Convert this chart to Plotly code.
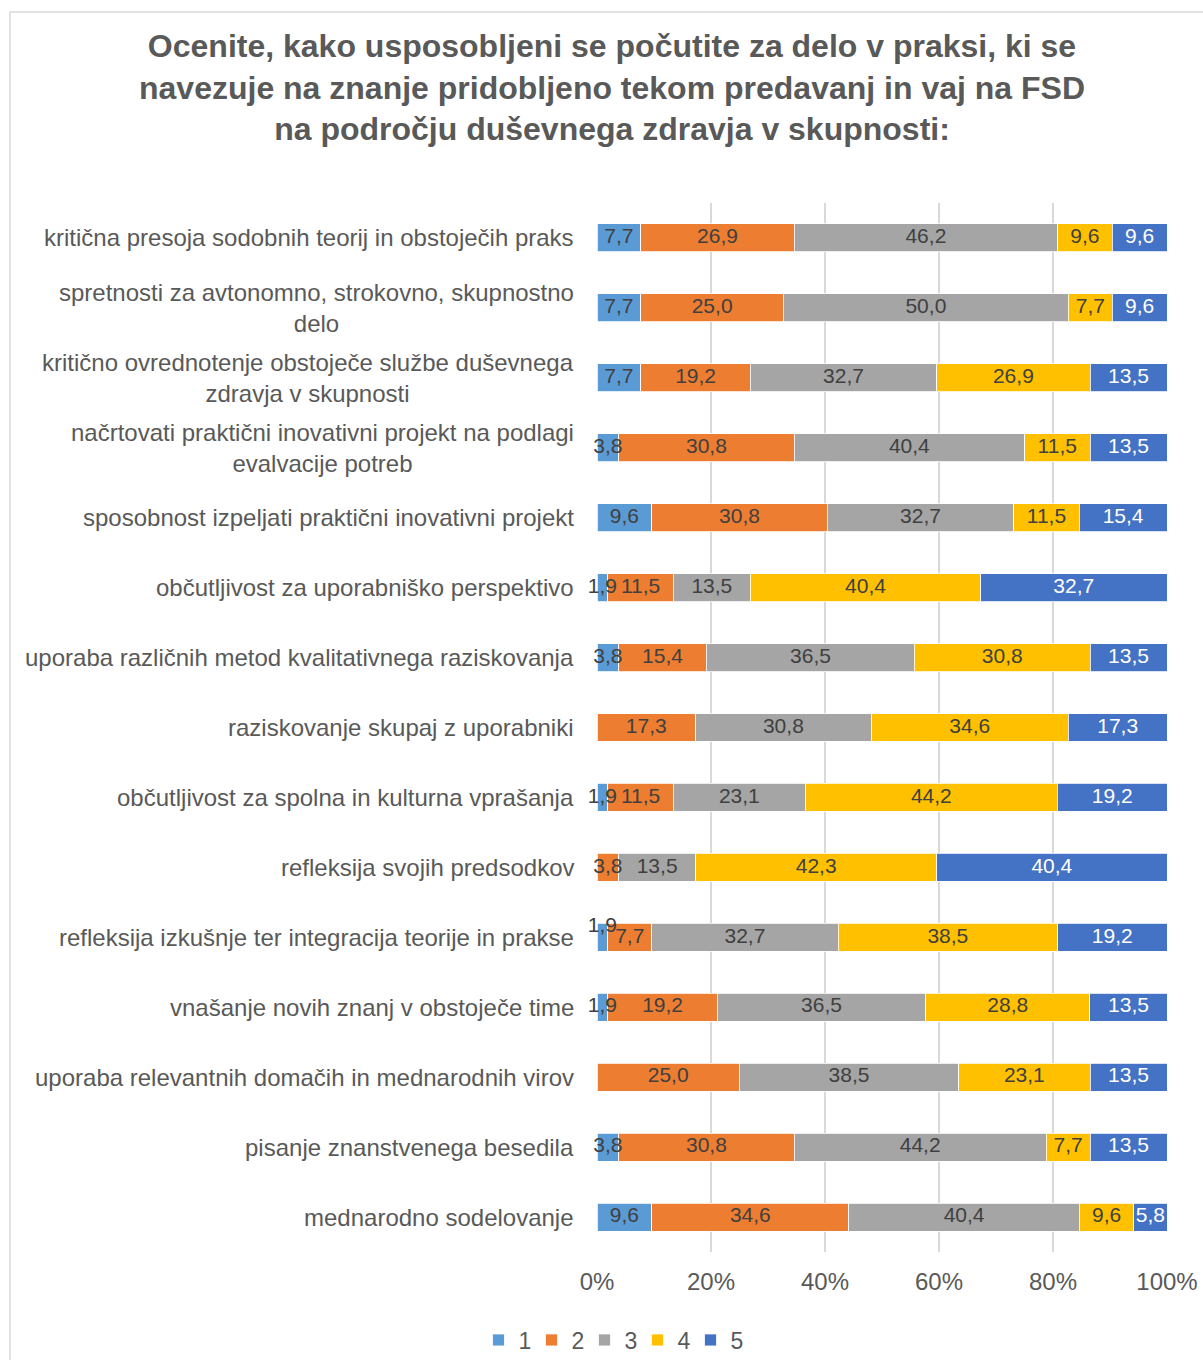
import plotly.graph_objects as go

# Survey items (top to bottom)
categories = [
    "kritična presoja sodobnih teorij in obstoječih praks",
    "spretnosti za avtonomno, strokovno, skupnostno<br>delo",
    "kritično ovrednotenje obstoječe službe duševnega<br>zdravja v skupnosti",
    "načrtovati praktični inovativni projekt na podlagi<br>evalvacije potreb",
    "sposobnost izpeljati praktični inovativni projekt",
    "občutljivost za uporabniško perspektivo",
    "uporaba različnih metod kvalitativnega raziskovanja",
    "raziskovanje skupaj z uporabniki",
    "občutljivost za spolna in kulturna vprašanja",
    "refleksija svojih predsodkov",
    "refleksija izkušnje ter integracija teorije in prakse",
    "vnašanje novih znanj v obstoječe time",
    "uporaba relevantnih domačih in mednarodnih virov",
    "pisanje znanstvenega besedila",
    "mednarodno sodelovanje",
]

# Share of answers (%) for each rating 1..5
rating_1 = [7.7, 7.7, 7.7, 3.8, 9.6, 1.9, 3.8, 0.0, 1.9, 0.0, 1.9, 1.9, 0.0, 3.8, 9.6]
rating_2 = [26.9, 25.0, 19.2, 30.8, 30.8, 11.5, 15.4, 17.3, 11.5, 3.8, 7.7, 19.2, 25.0, 30.8, 34.6]
rating_3 = [46.2, 50.0, 32.7, 40.4, 32.7, 13.5, 36.5, 30.8, 23.1, 13.5, 32.7, 36.5, 38.5, 44.2, 40.4]
rating_4 = [9.6, 7.7, 26.9, 11.5, 11.5, 40.4, 30.8, 34.6, 44.2, 42.3, 38.5, 28.8, 23.1, 7.7, 9.6]
rating_5 = [9.6, 9.6, 13.5, 13.5, 15.4, 32.7, 13.5, 17.3, 19.2, 40.4, 19.2, 13.5, 13.5, 13.5, 5.8]

series_names = ["1", "2", "3", "4", "5"]
series_values = [rating_1, rating_2, rating_3, rating_4, rating_5]
colors = ["#5B9BD5", "#ED7D31", "#A5A5A5", "#FFC000", "#4472C4"]
label_colors = ["#404040", "#404040", "#404040", "#404040", "#FFFFFF"]

x_ticks = [0, 20, 40, 60, 80, 100]
x_tick_labels = ["0%", "20%", "40%", "60%", "80%", "100%"]

FONT = "Liberation Sans, Arial, sans-serif"

# Labels that sit just above their (very narrow) segment: (row, series)
RAISED_LABELS = {(10, 0)}


def fmt(v):
    return "" if v == 0 else f"{v:.1f}".replace(".", ",")


fig = go.Figure()
for name, vals, col in zip(series_names, series_values, colors):
    fig.add_trace(go.Bar(
        y=categories,
        x=vals,
        name=name,
        orientation="h",
        marker=dict(color=col, line=dict(color="#FFFFFF", width=0.8)),
        hoverinfo="skip",
    ))

# Value labels at the centre of each (normalised) segment, drawn above all bars
totals = [sum(s[i] for s in series_values) for i in range(len(categories))]
running = [0.0] * len(categories)
for k, (vals, tcol) in enumerate(zip(series_values, label_colors)):
    mids, texts, positions = [], [], []
    for i, v in enumerate(vals):
        share = v / totals[i] * 100
        mids.append(running[i] + share / 2)
        running[i] += share
        texts.append(fmt(v))
        positions.append("top center" if (i, k) in RAISED_LABELS else "middle center")
    fig.add_trace(go.Scatter(
        x=mids, y=categories, mode="text",
        text=texts, textposition=positions,
        textfont=dict(family=FONT, size=21, color=tcol),
        cliponaxis=False, showlegend=False, hoverinfo="skip",
    ))

# Category labels, centred line by line and right-aligned to the axis
for cat in categories:
    fig.add_annotation(
        x=0, xref="paper", y=cat, yref="y",
        text=cat, showarrow=False,
        xanchor="right", xshift=-21, align="center",
        font=dict(family=FONT, size=24, color="#595959"),
    )

# Chart border
fig.add_shape(type="rect", xref="paper", yref="paper",
              x0=-587 / 570, x1=1.10, y0=-0.2, y1=(1360 - 12 - 108) / 1049,
              line=dict(color="#D9D9D9", width=1.5), fillcolor="rgba(0,0,0,0)",
              layer="below")

fig.update_layout(
    width=1203, height=1360,
    barmode="stack", barnorm="percent", bargap=0.6,
    paper_bgcolor="white", plot_bgcolor="white",
    margin=dict(l=597, r=36, t=203, b=108, autoexpand=False),
    title=dict(
        text="Ocenite, kako usposobljeni se počutite za delo v praksi, ki se<br>"
             "navezuje na znanje pridobljeno tekom predavanj in vaj na FSD<br>"
             "na področju duševnega zdravja v skupnosti:",
        x=612 / 1203, xref="container", xanchor="center",
        y=1 - 57 / 1360, yref="container", yanchor="middle",
        font=dict(family=FONT, size=32, color="#595959", weight="bold"),
    ),
    xaxis=dict(
        range=[0, 100], tickvals=x_ticks, ticktext=x_tick_labels,
        showgrid=True, gridcolor="#D9D9D9", gridwidth=1.5,
        zeroline=False, showline=False, ticks="",
        tickfont=dict(family=FONT, size=24, color="#595959"),
        ticklabelstandoff=13,
    ),
    yaxis=dict(
        categoryorder="array", categoryarray=categories,
        range=[len(categories) - 0.5, -0.5], showticklabels=False,
        showgrid=False, zeroline=False, showline=False,
    ),
    legend=dict(
        orientation="h", xref="container", yref="container",
        x=611 / 1203, xanchor="center", y=1 - 1340 / 1360, yanchor="middle",
        font=dict(family=FONT, size=23, color="#595959"),
        itemwidth=30, entrywidth=8, traceorder="normal",
    ),
    showlegend=True,
)

fig.write_html("out.html")
